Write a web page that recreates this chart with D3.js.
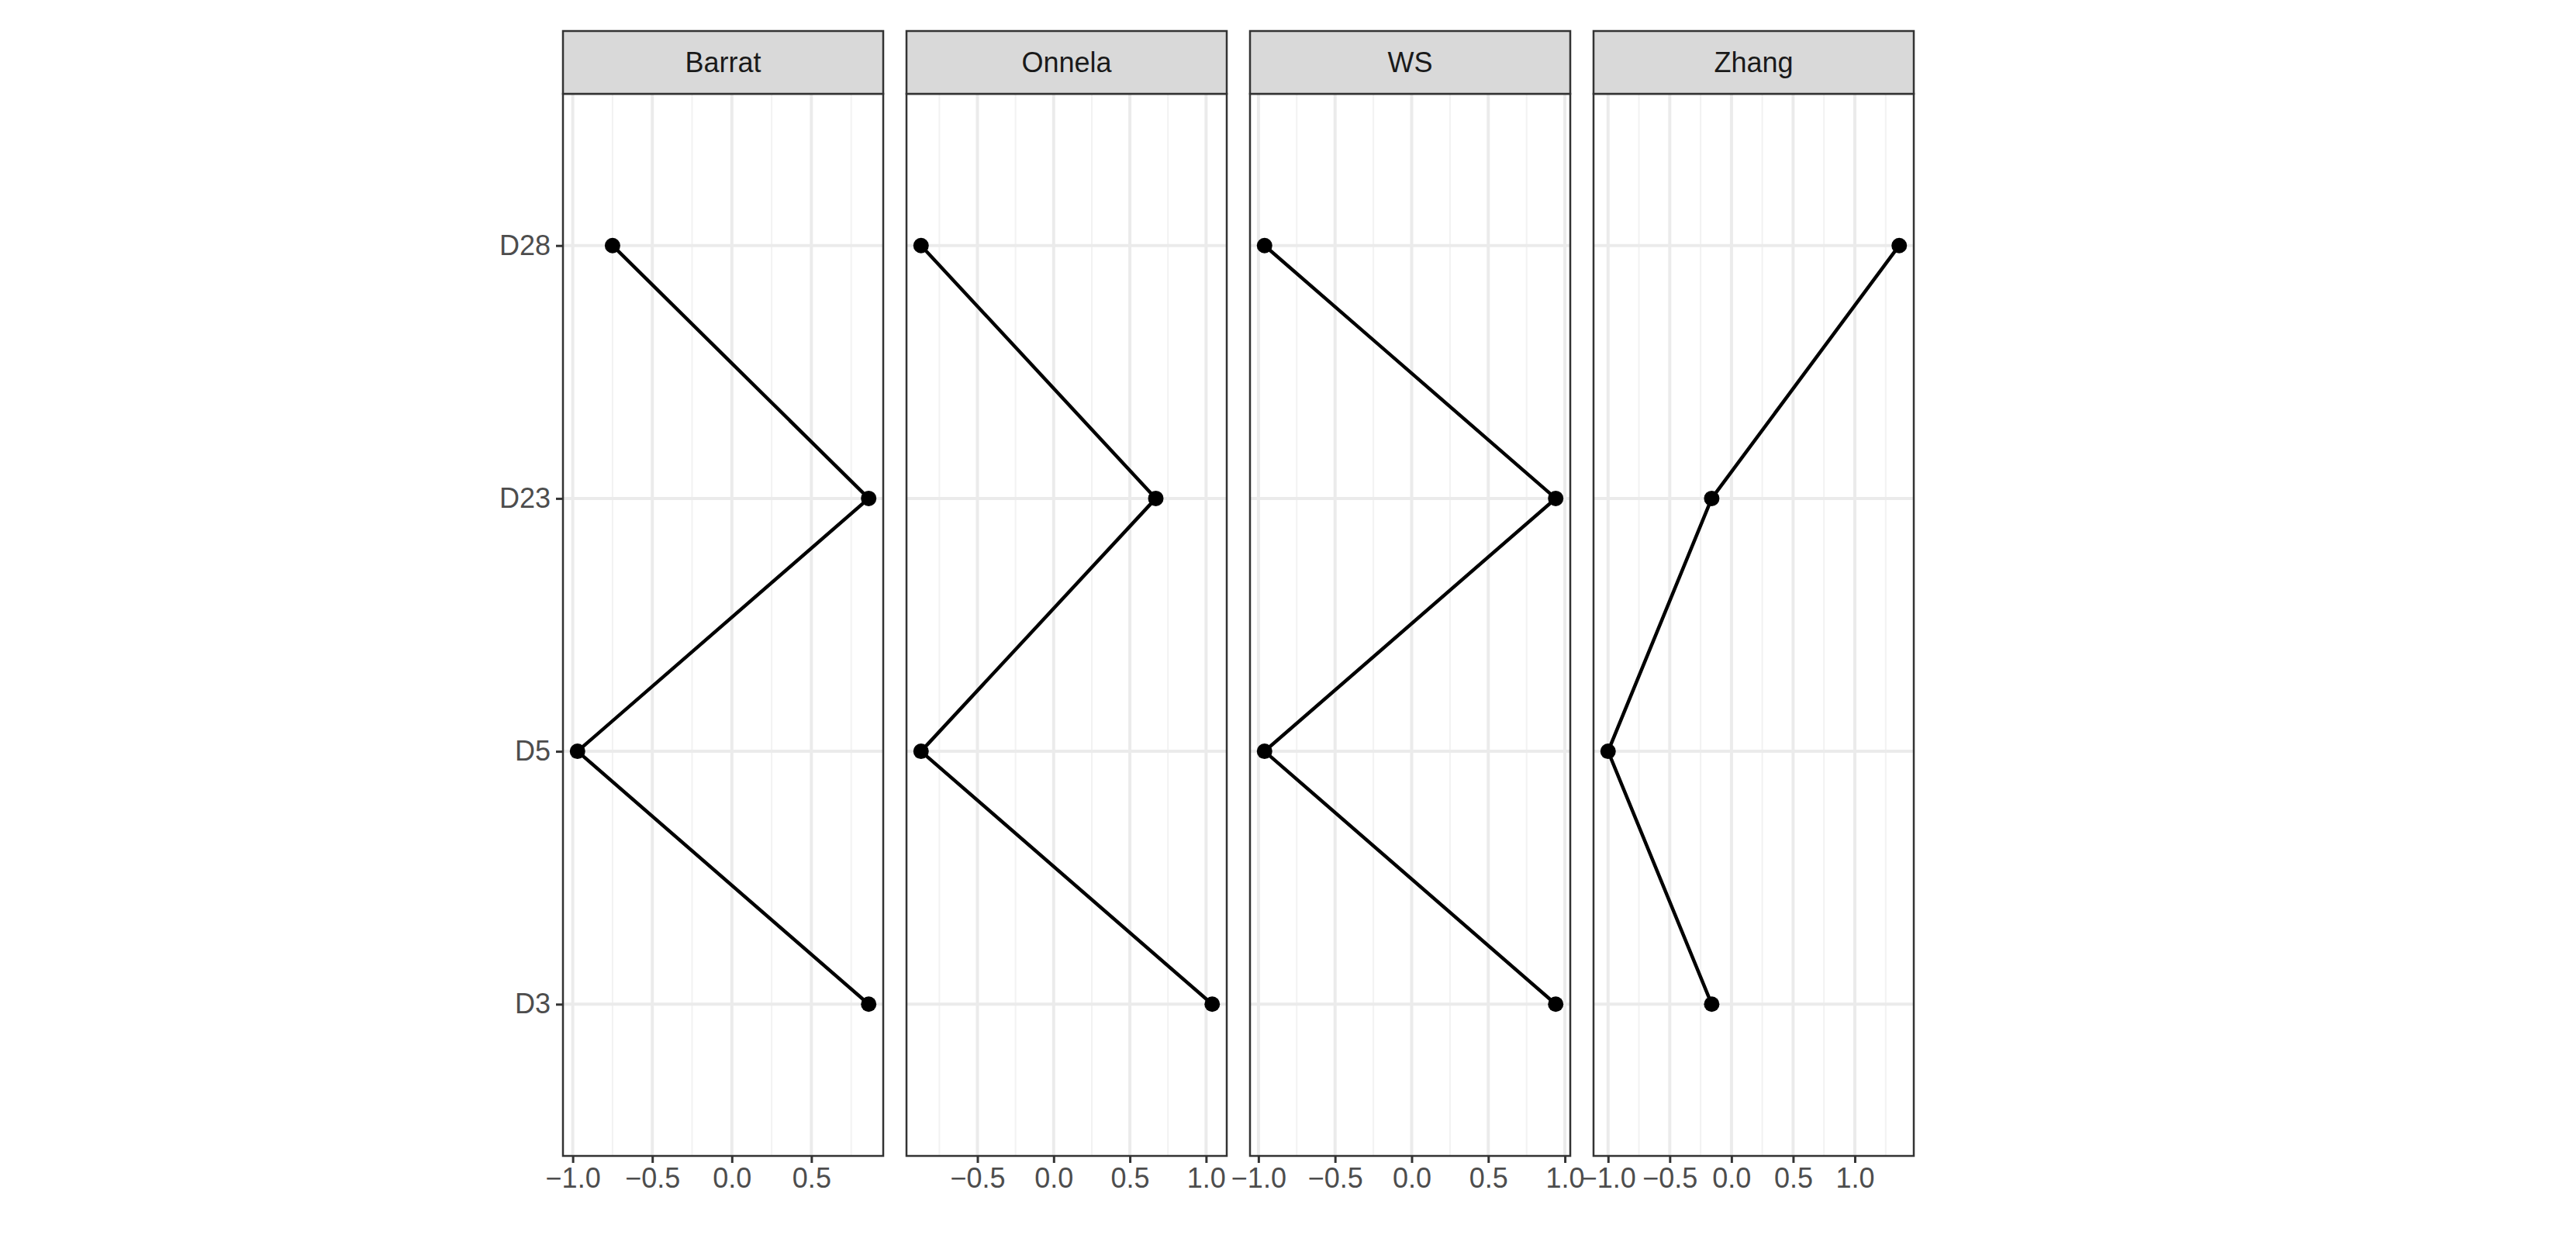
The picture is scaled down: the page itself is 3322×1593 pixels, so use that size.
<!DOCTYPE html>
<html><head><meta charset="utf-8">
<script src="https://cdn.jsdelivr.net/npm/d3@7"></script>
<style>body{margin:0;background:#fff}text{font-family:"Liberation Sans",Arial,sans-serif}</style>
</head><body>
<svg id="chart" width="3322" height="1593"></svg>
<script>
// data
const panels = ["Barrat", "Onnela", "WS", "Zhang"];
const days = ["D3", "D5", "D23", "D28"];
const barratVals = [0.86, -0.97, 0.86, -0.75];
const onnelaVals = [1.04, -0.87, 0.67, -0.87];
const wsVals = [0.94, -0.96, 0.94, -0.96];
const zhangVals = [-0.16, -1.0, -0.16, 1.36];
const xTicks = [-1.0, -0.5, 0.0, 0.5, 1.0];

const series = [barratVals, onnelaVals, wsVals, zhangVals];

const svg = d3.select("#chart");
const panelW = 413, gap = 30, left0 = 726;
const stripTop = 40, plotTop = 121, plotBottom = 1491;

const y = d3.scalePoint().domain(days).range([plotBottom, plotTop]).padding(0.6);

// y axis labels
const yAxisG = svg.append("g").attr("transform", `translate(${left0},0)`)
    .call(d3.axisLeft(y).tickSize(9).tickPadding(7));
yAxisG.select(".domain").remove();
yAxisG.selectAll(".tick line").attr("stroke", "#333").attr("stroke-width", 3);
yAxisG.selectAll("text").attr("fill", "#4d4d4d").style("font-size", "36px");

panels.forEach((name, i) => {
    const vals = series[i];
    const x0 = left0 + i * (panelW + gap);
    const ext = d3.extent(vals);
    const pad = (ext[1] - ext[0]) * 0.05;
    const x = d3.scaleLinear().domain([ext[0] - pad, ext[1] + pad]).range([x0, x0 + panelW]);
    const g = svg.append("g");

    // grid
    const ticks = xTicks.filter(t => t >= x.domain()[0] && t <= x.domain()[1]);
    const minor = [];
    for (let k = -1.25; k <= 1.5; k += 0.25) if (k >= x.domain()[0] && k <= x.domain()[1] && !xTicks.some(t => Math.abs(t - k) < 1e-9)) minor.push(k);
    g.selectAll(".mn").data(minor).join("line")
        .attr("x1", d => x(d)).attr("x2", d => x(d)).attr("y1", plotTop).attr("y2", plotBottom)
        .attr("stroke", "#f2f2f2").attr("stroke-width", 2);
    g.selectAll(".mj").data(ticks).join("line")
        .attr("x1", d => x(d)).attr("x2", d => x(d)).attr("y1", plotTop).attr("y2", plotBottom)
        .attr("stroke", "#ebebeb").attr("stroke-width", 4);
    g.selectAll(".hy").data(days).join("line")
        .attr("x1", x0).attr("x2", x0 + panelW).attr("y1", d => y(d)).attr("y2", d => y(d))
        .attr("stroke", "#ebebeb").attr("stroke-width", 4);

    // line + points
    const pts = days.map((d, j) => ({d, v: vals[j]}));
    g.append("path").datum(pts)
        .attr("d", d3.line().x(p => x(p.v)).y(p => y(p.d)))
        .attr("fill", "none").attr("stroke", "#000").attr("stroke-width", 4.5);
    g.selectAll(".pt").data(pts).join("circle")
        .attr("cx", p => x(p.v)).attr("cy", p => y(p.d)).attr("r", 10).attr("fill", "#000");

    // border
    g.append("rect").attr("x", x0).attr("y", plotTop).attr("width", panelW).attr("height", plotBottom - plotTop)
        .attr("fill", "none").attr("stroke", "#333").attr("stroke-width", 2.5);
    // strip
    g.append("rect").attr("x", x0).attr("y", stripTop).attr("width", panelW).attr("height", plotTop - stripTop)
        .attr("fill", "#d9d9d9").attr("stroke", "#333").attr("stroke-width", 2.5);
    g.append("text").attr("x", x0 + panelW / 2).attr("y", (stripTop + plotTop) / 2 + 12)
        .attr("text-anchor", "middle").attr("fill", "#1a1a1a").style("font-size", "36px").text(name);

    // x axis
    const ax = svg.append("g").attr("transform", `translate(0,${plotBottom})`)
        .call(d3.axisBottom(x).tickValues(ticks).tickFormat(d3.format(".1f")).tickSize(9).tickPadding(6));
    ax.select(".domain").remove();
    ax.selectAll(".tick line").attr("stroke", "#333").attr("stroke-width", 3);
    ax.selectAll("text").attr("fill", "#4d4d4d").style("font-size", "36px");
});
</script>
</body></html>
